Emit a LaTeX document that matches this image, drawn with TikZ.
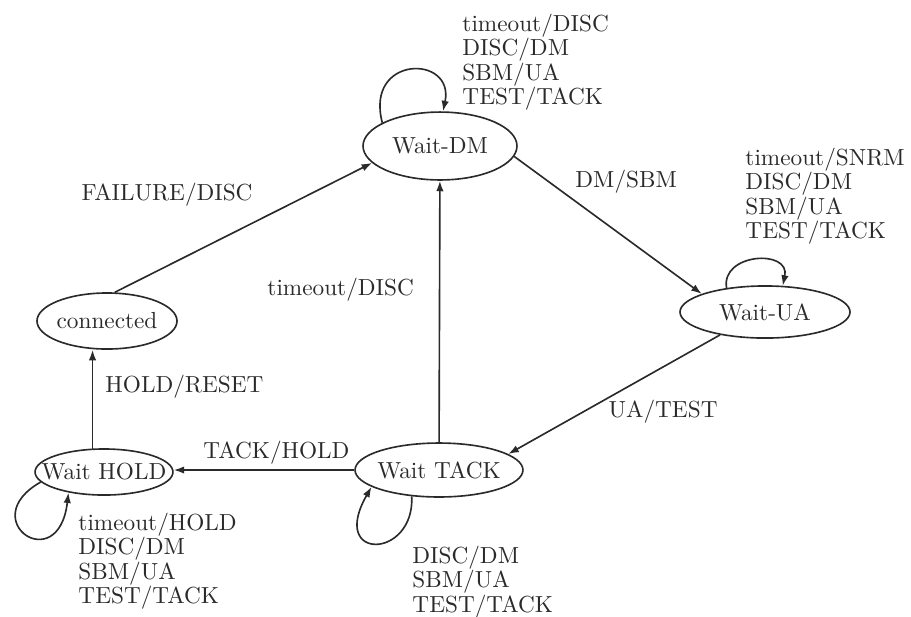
\documentclass[tikz,border=0pt]{standalone}
\usetikzlibrary{shapes.geometric,arrows.meta}
\definecolor{ink}{HTML}{2A2A2A}
\tikzset{
  st/.style={ellipse, draw=ink, line width=0.7pt, inner sep=0pt},
  lbl/.style={text=ink, inner sep=0pt, font=\fontsize{10}{10.5}\selectfont},
  multi/.style={lbl, align=left, anchor=north west},
  arr/.style={draw=ink, line width=0.7pt, -{Latex[length=4.5pt,width=3.2pt]}},
}
\begin{document}
\begin{tikzpicture}[x=0.43pt,y=-0.43pt]
\useasboundingbox (0,0) rectangle (911,616);

% states
\node[st, minimum width=66.2pt, minimum height=29.2pt, label={[lbl]center:Wait-DM}] (dm) at (440,146) {};
\node[st, minimum width=73.1pt, minimum height=22.4pt, label={[lbl]center:Wait-UA}] (ua) at (765,312) {};
\node[st, minimum width=60.2pt, minimum height=24.1pt, label={[lbl]center:connected}] (con) at (107,321) {};
\node[st, minimum width=59.3pt, minimum height=19.8pt, label={[lbl]center:Wait HOLD}] (hold) at (104,472) {};
\node[st, minimum width=72.2pt, minimum height=23.2pt, label={[lbl]center:Wait TACK}] (tack) at (439,470) {};

% transitions between states
\draw[arr] (con.75) -- (dm.194);
\draw[arr] (dm.352) -- (ua.164);
\draw[arr] (ua.207) -- (tack.13);
\draw[arr] (tack) -- (dm);
\draw[arr] (tack.west) -- (tack.west -| hold.east);
\draw[arr] (hold.116) -- (hold.116 |- con.south);

% self loops
\draw[arr] (dm.158) .. controls +(-18,-68) and +(12,-57) .. (dm.85);
\draw[arr] (ua.148) .. controls +(-6,-35) and +(8,-37) .. (ua.56);
\draw[arr] (tack.224) .. controls +(3,63) and +(-43,75) .. (tack.194);
\draw[arr] (hold.189) .. controls +(-67,38) and +(-10,86) .. (hold.210);

% transition labels
\node[lbl, anchor=east] (lfail) at (253,195) {FAILURE/DISC};
\node[lbl, anchor=west] (ldmsbm) at (575,182) {DM/SBM};
\node[lbl, anchor=west] (ltodisc) at (267,290) {timeout/DISC};
\node[lbl, anchor=west] (lhold) at (105,387) {HOLD/RESET};
\node[lbl, anchor=west] (ltack) at (203,453) {TACK/HOLD};
\node[lbl, anchor=east] (luatest) at (718,412) {UA/TEST};

\node[multi] (ldm) at (462,13.5) {timeout/DISC\\DISC/DM\\SBM/UA\\TEST/TACK};
\node[multi] (lua) at (745,147.5) {timeout/SNRM\\DISC/DM\\SBM/UA\\TEST/TACK};
\node[multi] (ltk) at (412,545.5) {DISC/DM\\SBM/UA\\TEST/TACK};
\node[multi] (lhd) at (78,512.5) {timeout/HOLD\\DISC/DM\\SBM/UA\\TEST/TACK};
\end{tikzpicture}
\end{document}
